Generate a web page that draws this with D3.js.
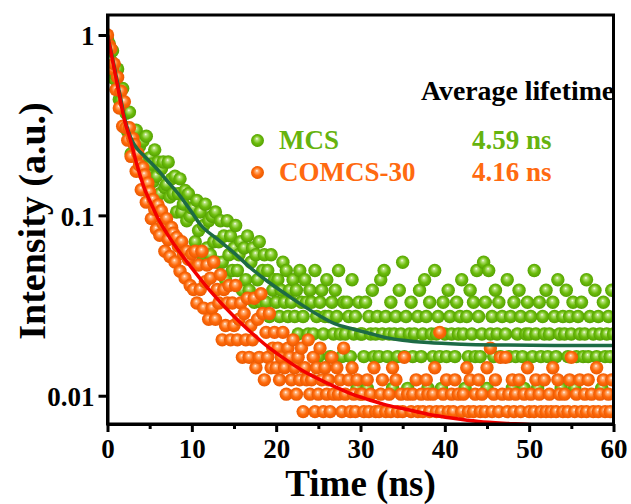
<!DOCTYPE html>
<html>
<head>
<meta charset="utf-8">
<script src="https://cdn.jsdelivr.net/npm/d3@7"></script>
<style>
  body { margin: 0; background: #fff; }
  text { font-family: "Liberation Serif", "Times New Roman", serif; font-weight: bold; }
</style>
</head>
<body>
<div id="chart"></div>
<script>
// time between two plotted channels (ns)
const step = 0.2;

// raw photon counts per channel
const mcsCounts = [
  173,163,131,149,104,109,118,80,79,92,56,67,53,68,40,52,45,54,38,44,
  32,47,37,50,32,38,35,28,42,30,36,24,33,36,26,27,36,23,29,24,
  30,19,24,29,19,21,25,17,24,18,20,
  20,13,22,15,19,11,16,21,12,17,
  11,18,13,19,10,13,17,10,14,8,
  17,11,14,9,12,16,9,11,13,7,
  12,8,14,7,10,12,6,11,8,13,
  6,9,11,6,9,5,11,7,8,6,
  8,5,7,10,6,9,5,7,6,8,
  5,7,4,9,6,5,8,6,4,7,
  6,4,9,5,3,6,7,4,5,8,
  5,3,6,4,7,5,9,4,3,6,
  4,6,5,3,8,4,5,2,6,4,
  4,3,6,2,5,4,7,3,4,5,
  3,8,4,9,5,3,4,6,2,4,
  5,3,7,4,10,3,5,2,4,6,
  3,4,1,5,7,3,4,8,5,2,
  6,4,3,9,4,5,3,2,6,4,
  3,7,5,4,1,3,6,4,5,8,
  4,2,5,3,7,4,6,3,9,5,
  3,4,10,6,2,9,4,5,3,7,
  4,6,3,5,1,4,8,3,5,2,
  6,3,4,7,5,3,2,4,6,4,
  5,3,9,4,2,6,3,5,4,7,
  3,4,1,6,5,3,8,4,2,5,
  4,7,3,5,4,6,2,3,5,4,
  6,3,4,8,3,5,1,4,7,3,
  5,4,2,6,3,4,5,3,7,4
];
const comcsCounts = [
  490,428,412,318,339,244,286,193,239,153,209,150,128,150,104,131,121,86,108,93,
  68,90,82,58,74,66,47,60,53,41,56,38,52,44,31,47,36,29,42,39,
  27,37,33,24,35,30,22,31,28,20,30,
  19,31,16,26,19,31,15,21,26,13,
  22,15,27,13,19,16,23,10,19,12,
  16,20,10,16,12,20,10,13,16,8,
  14,10,17,8,12,10,17,7,13,8,
  18,14,6,11,8,14,7,9,11,7,
  9,6,8,11,7,5,9,8,6,10,
  7,5,8,6,9,4,7,6,10,5,
  6,8,4,7,5,9,6,4,7,5,
  6,4,8,5,3,7,5,6,4,9,
  5,3,6,4,7,5,4,6,3,5,
  5,4,3,6,4,5,2,7,4,3,
  4,5,6,3,4,2,5,4,7,3,
  6,4,3,5,4,8,3,5,2,4,
  5,3,6,4,1,5,4,3,6,5,
  4,3,5,7,4,2,11,4,5,3,
  6,4,3,5,4,6,2,5,3,4,
  5,3,7,4,6,3,4,5,2,6,
  4,5,3,4,7,3,9,4,5,6,
  3,4,8,5,2,8,4,5,3,6,
  4,5,3,6,4,1,5,3,7,4,
  5,3,4,6,3,5,4,2,6,4,
  3,5,4,7,3,4,6,5,3,4,
  5,2,4,6,8,3,4,5,3,6,
  4,3,5,4,6,2,5,4,3,7,
  4,5,3,6,4,3,5,4,6,3
];
// counts at the peak, used to normalise
const mcsPeak = 182;
const comcsPeak = 490;

// fitted decay curves [time (ns), intensity]
const mcsFit = [
  [0,1.0],[0.5,0.78],[1,0.6],[1.5,0.46],[2,0.35],[2.5,0.29],[3,0.255],[3.5,0.235],
  [4.5,0.21],[6,0.178],[7,0.157],[8.5,0.13],[10,0.104],[11,0.089],[13,0.074],[15,0.062],
  [17,0.051],[19,0.043],[21,0.037],[23,0.032],[25,0.028],[27,0.025],[29,0.0235],
  [31,0.0222],[33,0.021],[35,0.0203],[38,0.0197],[42,0.0193],[47,0.0191],[53,0.019],[60,0.019]
];
const comcsFit = [
  [0,1.0],[0.75,0.667],[1.5,0.44],[2,0.34],[2.7,0.263],[3.5,0.19],[4.3,0.144],[5.1,0.118],
  [5.9,0.098],[7,0.08],[8.5,0.063],[10,0.051],[12.2,0.038],[15,0.0275],[17,0.0225],
  [19,0.0187],[21,0.016],[23,0.0139],[25,0.0124],[27,0.0112],[29,0.0102],[31,0.0095],
  [33,0.0089],[35,0.0085],[38,0.0079],[41,0.0075],[44,0.0072],[48,0.0070],[53,0.0068],[60,0.0067]
];

const seriesNames = ["MCS", "COMCS-30"];
const lifetimes = ["4.59 ns", "4.16 ns"];
const xTicks = [0, 10, 20, 30, 40, 50, 60];
const xMinorTicks = [5, 15, 25, 35, 45, 55];
const yTicks = [0.01, 0.1, 1];
const yTickLabels = ["0.01", "0.1", "1"];

const W = 631, H = 504;
const plot = { left: 107.5, right: 613.5, top: 15, bottom: 424 };

const svg = d3.select("#chart").append("svg")
  .attr("width", W).attr("height", H);

const x = d3.scaleLinear().domain([0, 60]).range([plot.left, plot.right]);
const y = d3.scaleLog().domain([0.00697, 1.291]).range([plot.bottom, plot.top]);

// sphere-like gradients
const defs = svg.append("defs");
function sphere(id, light, base, dark) {
  const g = defs.append("radialGradient").attr("id", id)
    .attr("cx", "50%").attr("cy", "50%").attr("r", "55%")
    .attr("fx", "45%").attr("fy", "35%");
  g.append("stop").attr("offset", "0%").attr("stop-color", "#ffffff");
  g.append("stop").attr("offset", "18%").attr("stop-color", light);
  g.append("stop").attr("offset", "55%").attr("stop-color", base);
  g.append("stop").attr("offset", "100%").attr("stop-color", dark);
}
sphere("gGreen", "#b6e27a", "#6cbd0c", "#4f9a00");
sphere("gOrange", "#ffb27a", "#ff6a0a", "#e55500");

defs.append("clipPath").attr("id", "plotClip")
  .append("rect")
  .attr("x", plot.left).attr("y", plot.top)
  .attr("width", plot.right - plot.left).attr("height", plot.bottom - plot.top);

const body = svg.append("g").attr("clip-path", "url(#plotClip)");

function toPoints(counts, peak) {
  return counts.map((c, i) => ({ t: i * step, v: c / peak })).filter(d => d.v > 0);
}

const r = 6.7;
body.append("g").selectAll("circle")
  .data(toPoints(mcsCounts, mcsPeak))
  .enter().append("circle")
  .attr("cx", d => x(d.t)).attr("cy", d => y(d.v)).attr("r", r)
  .attr("fill", "url(#gGreen)");

body.append("g").selectAll("circle")
  .data(toPoints(comcsCounts, comcsPeak))
  .enter().append("circle")
  .attr("cx", d => x(d.t)).attr("cy", d => y(d.v)).attr("r", r)
  .attr("fill", "url(#gOrange)");

const line = d3.line()
  .x(d => x(d[0])).y(d => y(d[1]))
  .curve(d3.curveMonotoneX);

body.append("path").datum(mcsFit)
  .attr("d", line).attr("fill", "none")
  .attr("stroke", "#1d6b45").attr("stroke-width", 3.5);

body.append("path").datum(comcsFit)
  .attr("d", line).attr("fill", "none")
  .attr("stroke", "#f20000").attr("stroke-width", 3.5);

// frame
svg.append("rect")
  .attr("x", plot.left).attr("y", plot.top)
  .attr("width", plot.right - plot.left).attr("height", plot.bottom - plot.top)
  .attr("fill", "none").attr("stroke", "#000").attr("stroke-width", 3);

// axes
svg.append("g")
  .attr("transform", "translate(0," + plot.bottom + ")")
  .call(d3.axisBottom(x).tickValues(xTicks).tickSize(8).tickSizeOuter(0).tickPadding(7));
svg.append("g")
  .attr("transform", "translate(0," + plot.bottom + ")")
  .call(d3.axisBottom(x).tickValues(xMinorTicks).tickSize(5).tickSizeOuter(0).tickFormat(""));

const yAxis = svg.append("g")
  .attr("transform", "translate(" + plot.left + ",0)")
  .call(d3.axisLeft(y).tickValues(yTicks).tickSize(9).tickSizeOuter(0).tickPadding(4)
    .tickFormat((d, i) => yTickLabels[i]));

svg.selectAll(".domain").attr("stroke", "#000").attr("stroke-width", 3);
svg.selectAll(".tick line").attr("stroke", "#000").attr("stroke-width", 3);
svg.selectAll(".tick text")
  .style("font-family", "'Liberation Serif', 'Times New Roman', serif")
  .style("font-weight", "bold")
  .style("font-size", "27px")
  .attr("fill", "#000");
yAxis.selectAll(".tick text").attr("dy", "0.36em");

// axis titles
svg.append("text")
  .attr("x", (plot.left + plot.right) / 2).attr("y", 496)
  .attr("text-anchor", "middle")
  .style("font-size", "37px")
  .text("Time (ns)");

svg.append("text")
  .attr("transform", "translate(45," + 221 + ")rotate(-90)")
  .attr("text-anchor", "middle")
  .style("font-size", "38px")
  .text("Intensity (a.u.)");

// legend
const colors = ["#66b30e", "#ff6a10"];
const fills = ["url(#gGreen)", "url(#gOrange)"];

svg.append("text")
  .attr("x", 421).attr("y", 100)
  .style("font-size", "27.8px")
  .text("Average lifetime");

const legend = svg.selectAll(".legend")
  .data(seriesNames)
  .enter().append("g")
  .attr("class", "legend")
  .attr("transform", (d, i) => "translate(0," + (i * 32) + ")");

legend.append("circle")
  .attr("cx", 257.5).attr("cy", 140.5).attr("r", 6.5)
  .attr("fill", (d, i) => fills[i]);

legend.append("text")
  .attr("x", 279).attr("y", 148.5)
  .style("font-size", "27px")
  .attr("fill", (d, i) => colors[i])
  .text(d => d);

legend.append("text")
  .attr("x", 472).attr("y", 148.5)
  .style("font-size", "27px")
  .attr("fill", (d, i) => colors[i])
  .text((d, i) => lifetimes[i]);
</script>
</body>
</html>
